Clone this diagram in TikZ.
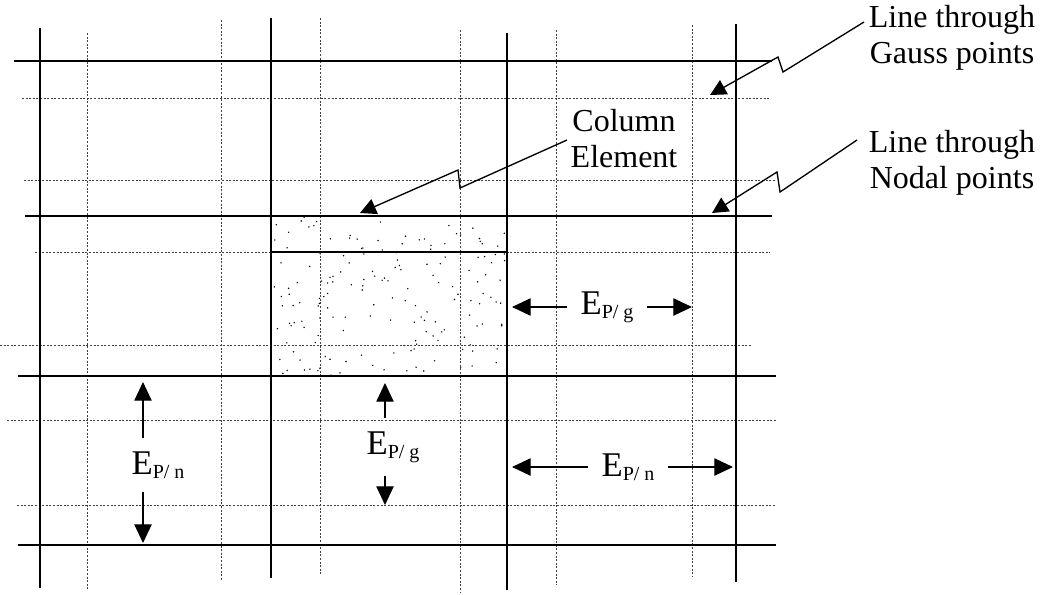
\documentclass[tikz,border=0pt]{standalone}
\usepackage{fontspec}
\setmainfont{Liberation Serif}
\usetikzlibrary{arrows.meta}
\newcommand{\Esub}[1]{E\raisebox{-3pt}{\fontsize{15}{15}\selectfont P/ #1}}

\begin{document}
\begin{tikzpicture}[
    x=0.75pt, y=-0.75pt,
    nodal/.style={line width=1.7pt},
    gauss/.style={line width=0.6pt, black!75, dash pattern=on 1.5pt off 1.2pt},
    note/.style={font=\fontsize{24}{27}\selectfont, align=center},
    elabel/.style={font=\fontsize{26}{28}\selectfont, inner sep=10pt},
    leader/.style={-{Triangle[length=12pt, width=12pt]}, line width=1pt},
    arrow/.style={-{Triangle[length=14pt, width=13pt]}, line width=0.9pt}
]
\useasboundingbox (0,0) rectangle (1044,594);
\pgfmathsetseed{42}
\foreach \i in {1,...,170}
  \fill (271+237*rnd, 217+159*rnd) circle (0.6pt);
\foreach \y/\a/\b in {98/22/770, 180/24/775, 252/35/770, 345/0/752, 420/7/776, 505/17/776}
  \draw[gauss] (\a,\y) -- (\b,\y);
\foreach \x/\a/\b in {87/33/590, 221/20/580, 320/18/576, 460/30/592, 556/30/585, 692/25/576}
  \draw[gauss] (\x,\a) -- (\x,\b);
\foreach \y/\a/\b in {61/14/772, 216/25/772, 376/18/776, 545/18/776}
  \draw[nodal] (\a,\y) -- (\b,\y);
\foreach \x/\a/\b in {40/28/588, 271/18/578, 507/33/590, 736/24/582}
  \draw[nodal] (\x,\a) -- (\x,\b);
\draw[nodal] (271,252) -- (507,252);

\node[note] (gauss) at (952,38) {Line through\\Gauss points};
\node[note] (nodal) at (952,163) {Line through\\Nodal points};
\node[note] (column) at (624,139) {Column\\Element};
\coordinate (gfrom) at (864,22);
\coordinate (gtip) at (710,95);
\coordinate (nfrom) at (857,140);
\coordinate (ntip) at (712,213);
\coordinate (cfrom) at (567,140);
\coordinate (ctip) at (360,213);
\draw[leader] (gfrom) -- ++(-81,50) -- ++(-5,-15) -- (gtip);
\draw[leader] (nfrom) -- ++(-77,52) -- ++(-3,-20) -- (ntip);
\draw[leader] (cfrom) -- ++(-107,48) -- ++(-2,-18) -- (ctip);

\node[elabel] (epgh) at (607,307) {\Esub{g}};
\coordinate (epghl) at (512,307);
\coordinate (epghr) at (692,307);
\draw[arrow] (epgh.west) -- (epghl);
\draw[arrow] (epgh.east) -- (epghr);

\node[elabel] (epnh) at (628,467) {\Esub{n}};
\coordinate (epnhl) at (512,467);
\coordinate (epnhr) at (733,467);
\draw[arrow] (epnh.west) -- (epnhl);
\draw[arrow] (epnh.east) -- (epnhr);

\node[elabel] (epnv) at (158,465) {\Esub{n}};
\coordinate (epnvu) at (143,382);
\coordinate (epnvd) at (143,543);
\draw[arrow] (epnvu |- epnv.north) -- (epnvu);
\draw[arrow] (epnvd |- epnv.south) -- (epnvd);

\node[elabel] (epgv) at (393,447) {\Esub{g}};
\coordinate (epgvu) at (385,383);
\coordinate (epgvd) at (385,505);
\draw[arrow] (epgvu |- epgv.north) -- (epgvu);
\draw[arrow] (epgvd |- epgv.south) -- (epgvd);
\end{tikzpicture}
\end{document}
